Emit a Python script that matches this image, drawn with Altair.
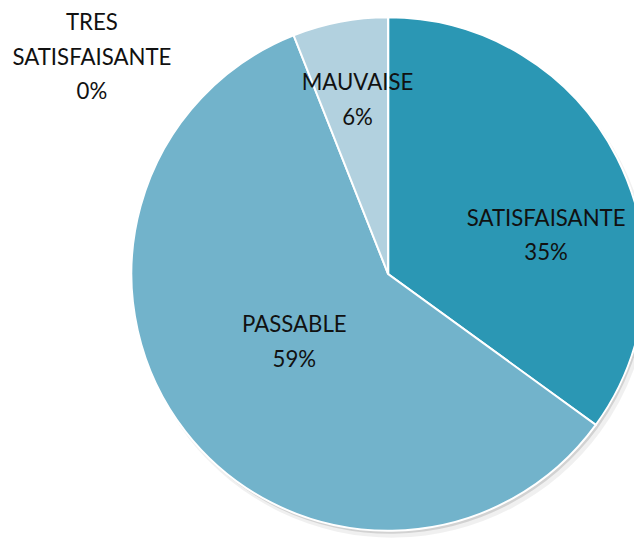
import altair as alt
import pandas as pd

categories = ["SATISFAISANTE", "PASSABLE", "MAUVAISE", "TRES SATISFAISANTE"]
percent = [35, 59, 6, 0]
colors = ["#2b97b4", "#72b3cb", "#b2d1df", "#1f6f8b"]

df = pd.DataFrame({
    "categorie": categories,
    "pct": percent,
    "ordre": list(range(len(categories))),
})
df["label"] = [
    ("TRES\nSATISFAISANTE" if c == "TRES SATISFAISANTE" else c) + f"\n{p}%"
    for c, p in zip(categories, percent)
]

CX, CY, R = 385, 266, 260

base = alt.Chart(df)

theta = alt.Theta("pct:Q", stack=True)
order = alt.Order("ordre:Q")

shadow1 = base.mark_arc(radius=R + 1, color="#000000", opacity=0.06).encode(
    theta=theta, order=order, x=alt.value(CX + 4), y=alt.value(CY + 6)
)
shadow2 = base.mark_arc(radius=R, color="#000000", opacity=0.12).encode(
    theta=theta, order=order, x=alt.value(CX + 2), y=alt.value(CY + 3)
)

arcs = base.mark_arc(radius=R, stroke="white", strokeWidth=2).encode(
    theta=theta,
    order=order,
    color=alt.Color("categorie:N", scale=alt.Scale(domain=categories, range=colors), legend=None),
    x=alt.value(CX),
    y=alt.value(CY),
)

# position of the first line of each label
label_pos = {
    "SATISFAISANTE": (545, 210),
    "PASSABLE": (290, 318),
    "MAUVAISE": (354, 73),
    "TRES SATISFAISANTE": (85, 12),
}

texts = []
for cat, (lx, ly) in label_pos.items():
    texts.append(
        base.transform_filter(alt.datum.categorie == cat)
        .mark_text(
            lineBreak="\n", lineHeight=35, font="Lato", fontSize=22.5,
            color="#111111", align="center", baseline="middle",
        )
        .encode(text="label:N", x=alt.value(lx), y=alt.value(ly))
    )

chart = alt.layer(shadow1, shadow2, arcs, *texts).properties(
    width=634, height=535, autosize=alt.AutoSizeParams(type="none"), padding=0
).configure_view(stroke=None)

chart.save("out.html", embed_options={"renderer": "svg", "actions": False})
